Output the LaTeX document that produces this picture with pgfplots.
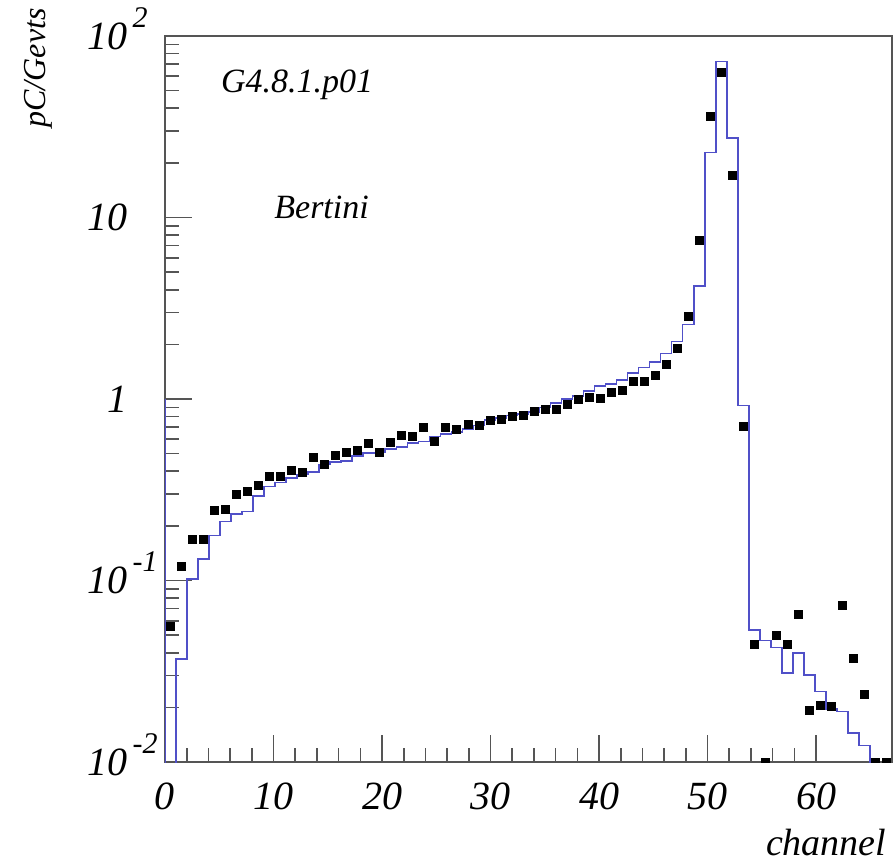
\documentclass[border=0pt]{standalone}
\usepackage{fontspec}
\setmainfont{Liberation Serif}
\usepackage{pgfplots}
\pgfplotsset{compat=1.18}
\usepackage{pgfplotstable}
\definecolor{histblue}{RGB}{80,80,200}
\definecolor{framegray}{RGB}{85,85,85}
\newcommand\expo[1]{\rlap{\smash{\raisebox{0.55em}{\fontsize{15}{15}\selectfont\,#1}}}}

% simulation histogram (bin index k, bins of width 67/66)
\pgfplotstableread{
k v
0 1
0 0.0001
1 0.037
2 0.102
3 0.131
4 0.177
5 0.211
6 0.232
7 0.240
8 0.293
9 0.329
10 0.347
11 0.366
12 0.383
13 0.395
14 0.435
15 0.448
16 0.455
17 0.487
18 0.504
19 0.508
20 0.530
21 0.542
22 0.572
23 0.582
24 0.620
25 0.641
26 0.660
27 0.684
28 0.713
29 0.765
30 0.785
31 0.810
32 0.827
33 0.851
34 0.900
35 0.950
36 1.000
37 1.040
38 1.110
39 1.180
40 1.210
41 1.270
42 1.390
43 1.490
44 1.600
45 1.785
46 2.070
47 2.570
48 4.200
49 22.8
50 72.2
51 27.5
52 0.919
53 0.0534
54 0.0466
55 0.0427
56 0.0310
57 0.0399
58 0.0302
59 0.0244
60 0.0196
61 0.0190
62 0.0144
63 0.0123
64 0.0001
65 0.0001
66 0.0001
}\hist

% data points (bin index k)
\pgfplotstableread{
k v
0 0.056
1 0.119
2 0.169
3 0.169
4 0.243
5 0.245
6 0.297
7 0.310
8 0.336
9 0.375
10 0.374
11 0.405
12 0.396
13 0.479
14 0.438
15 0.487
16 0.508
17 0.519
18 0.572
19 0.508
20 0.577
21 0.634
22 0.620
23 0.695
24 0.582
25 0.695
26 0.684
27 0.722
28 0.714
29 0.765
30 0.770
31 0.800
32 0.812
33 0.858
34 0.873
35 0.878
36 0.929
37 0.995
38 1.017
39 1.005
40 1.088
41 1.115
42 1.246
43 1.250
44 1.350
45 1.550
46 1.900
47 2.860
48 7.520
49 35.9
50 62.8
51 17.0
52 0.707
53 0.0447
54 0.0100
55 0.0501
56 0.0447
57 0.0654
58 0.0193
59 0.0206
60 0.0203
61 0.0733
62 0.0373
63 0.0235
64 0.0100
65 0.0100
}\data

\begin{document}
\begin{tikzpicture}
\begin{axis}[
  at={(0,0)}, anchor=south west,
  scale only axis, width=363.5pt, height=363pt,
  xmin=0, xmax=67,
  ymode=log, ymin=0.01, ymax=100,
  axis line style={framegray, line width=0.9pt},
  tick style={framegray, line width=0.8pt},
  tick align=inside,
  xtick pos=left, ytick pos=left,
  major tick length=13.7pt, minor tick length=7pt,
  xtick={0,10,20,30,40,50,60},
  xticklabels={0,10,20,30,40,50,60},
  minor x tick num=4,
  ytick={0.01,0.1,1,10,100},
  yticklabels={10\expo{-2},10\expo{-1},1,10,10\expo{2}},
  minor ytick={0.02,0.03,0.04,0.05,0.06,0.07,0.08,0.09,0.2,0.3,0.4,0.5,0.6,0.7,0.8,0.9,2,3,4,5,6,7,8,9,20,30,40,50,60,70,80,90},
  ticklabel style={font=\fontsize{20}{20}\selectfont\itshape, inner sep=0pt},
  xticklabel style={anchor=north, yshift=-10pt},
  yticklabel style={anchor=east, xshift=-18.5pt},
  clip marker paths=true,
]
\addplot[histblue, line width=0.8pt, const plot] table[x expr=\thisrow{k}*67/66, y=v] {\hist};
\addplot[only marks, mark=square*, mark size=2pt, mark options={black, fill=black}] table[x expr=(\thisrow{k}+0.5)*67/66, y=v] {\data};
\end{axis}
\node[anchor=base west, inner sep=0pt, font=\fontsize{17}{17}\selectfont\itshape] at (27.8pt,334.6pt) {G4.8.1.p01};
\node[anchor=base west, inner sep=0pt, font=\fontsize{17}{17}\selectfont\itshape] at (54.5pt,271.5pt) {Bertini};
\node[anchor=base east, inner sep=0pt, font=\fontsize{19}{19}\selectfont\itshape] at (360.9pt,-46.5pt) {channel};
\node[rotate=90, anchor=base east, inner sep=0pt, font=\fontsize{16}{16}\selectfont\itshape] at (-60pt,377pt) {pC/Gevts};
\pgfresetboundingbox
\path (-82.5pt,-52pt) rectangle (364pt,381pt);
\end{tikzpicture}
\end{document}
